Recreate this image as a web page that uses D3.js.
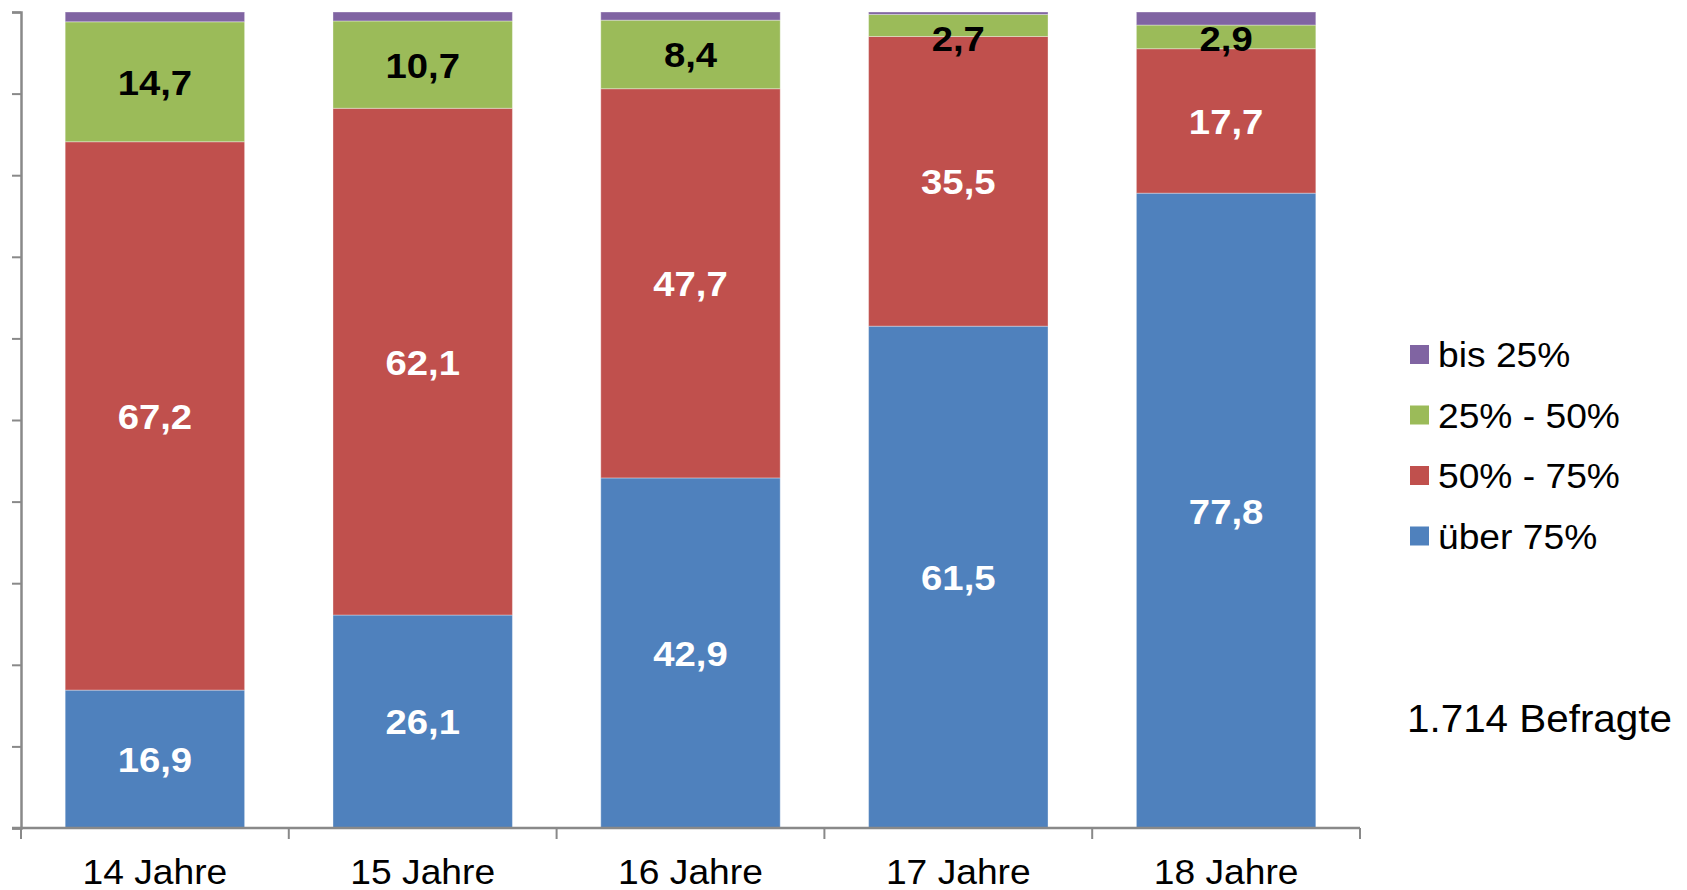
<!DOCTYPE html>
<html>
<head>
<meta charset="utf-8">
<script src="https://cdn.jsdelivr.net/npm/d3@7"></script>
<style>
  body { margin: 0; background: #fff; }
  text { font-family: "Liberation Sans", Arial, sans-serif; }
</style>
</head>
<body>
<div id="chart"></div>
<script>
// Daten
const kategorien = ['14 Jahre', '15 Jahre', '16 Jahre', '17 Jahre', '18 Jahre'];
const ueber75 = [16.9, 26.1, 42.9, 61.5, 77.8];
const von50bis75 = [67.2, 62.1, 47.7, 35.5, 17.7];
const von25bis50 = [14.7, 10.7, 8.4, 2.7, 2.9];
const bis25 = [1.2, 1.1, 1.0, 0.3, 1.6];
const serienNamen = ['über 75%', '50% - 75%', '25% - 50%', 'bis 25%'];
const yTicks = [0, 10, 20, 30, 40, 50, 60, 70, 80, 90, 100];
const befragte = '1.714 Befragte';

const farben = ['#4F81BD', '#C0504D', '#9BBB59', '#8064A2'];
const labelFarben = ['#fff', '#fff', '#000', null];

const width = 1687, height = 890;
const links = 21, rechts = 1360, oben = 12, unten = 828;
const streckung = 1.063; // Schrift im Original etwas breiter

const svg = d3.select('#chart').append('svg')
  .attr('width', width).attr('height', height);

const x = d3.scaleBand().domain(kategorien).range([links, rechts]).paddingInner(0.33).paddingOuter(0.165);
const y = d3.scaleLinear().domain([0, 100]).range([unten, oben]);

const pos = (px, py) => `translate(${px},${py}) scale(${streckung},1)`;

// Tabelle für den Stapel
const tabelle = kategorien.map((k, i) => ({
  kat: k, s0: ueber75[i], s1: von50bis75[i], s2: von25bis50[i], s3: bis25[i]
}));
const stapel = d3.stack().keys(['s0', 's1', 's2', 's3'])(tabelle);

stapel.forEach((serie, si) => {
  const g = svg.append('g');
  g.selectAll('rect').data(serie).join('rect')
    .attr('x', d => x(d.data.kat))
    .attr('y', d => y(d[1]))
    .attr('width', x.bandwidth())
    .attr('height', d => y(d[0]) - y(d[1]))
    .attr('fill', farben[si])
    .attr('stroke', 'rgba(255,255,255,0.35)')
    .attr('stroke-width', 1);

  if (labelFarben[si]) {
    g.selectAll('text').data(serie).join('text')
      .attr('transform', d => pos(x(d.data.kat) + x.bandwidth() / 2,
                                  Math.max((y(d[0]) + y(d[1])) / 2, oben + 26)))
      .attr('dy', '0.36em')
      .attr('text-anchor', 'middle')
      .attr('font-size', 36)
      .attr('font-weight', 'bold')
      .attr('fill', labelFarben[si])
      .text(d => (d[1] - d[0]).toFixed(1).replace('.', ','));
  }
});

// Achsen
const achsenFarbe = '#898989';
const yAchse = svg.append('g')
  .attr('transform', `translate(${links},0)`)
  .call(d3.axisLeft(y).tickValues(yTicks).tickSize(9).tickFormat(''));
yAchse.selectAll('line').attr('stroke', achsenFarbe).attr('stroke-width', 2);
yAchse.select('.domain').attr('stroke', achsenFarbe).attr('stroke-width', 2.5);

const xAchse = svg.append('g').attr('transform', `translate(0,${unten})`);
xAchse.append('line')
  .attr('x1', links - 9).attr('x2', rechts)
  .attr('stroke', achsenFarbe).attr('stroke-width', 2.5);
const grenzen = kategorien.map((k, i) => links + i * x.step()).concat([rechts]);
xAchse.selectAll('line.tick').data(grenzen).join('line')
  .attr('class', 'tick')
  .attr('x1', d => d).attr('x2', d => d)
  .attr('y1', 0).attr('y2', 11)
  .attr('stroke', achsenFarbe).attr('stroke-width', 2);
xAchse.selectAll('text').data(kategorien).join('text')
  .attr('transform', d => pos(x(d) + x.bandwidth() / 2, 56))
  .attr('text-anchor', 'middle')
  .attr('font-size', 35)
  .attr('fill', '#000')
  .text(d => d);

// Legende
const legendeReihen = [3, 2, 1, 0];
const legende = svg.append('g').attr('transform', 'translate(1410,345)');
legendeReihen.forEach((si, i) => {
  const r = legende.append('g').attr('transform', `translate(0,${i * 60.5})`);
  r.append('rect').attr('width', 19).attr('height', 19).attr('fill', farben[si]);
  r.append('text').attr('transform', pos(28, 22))
    .attr('font-size', 35).attr('fill', '#000')
    .text(serienNamen[si]);
});

svg.append('text')
  .attr('transform', pos(1407, 732))
  .attr('font-size', 38).attr('fill', '#000')
  .text(befragte);
</script>
</body>
</html>
